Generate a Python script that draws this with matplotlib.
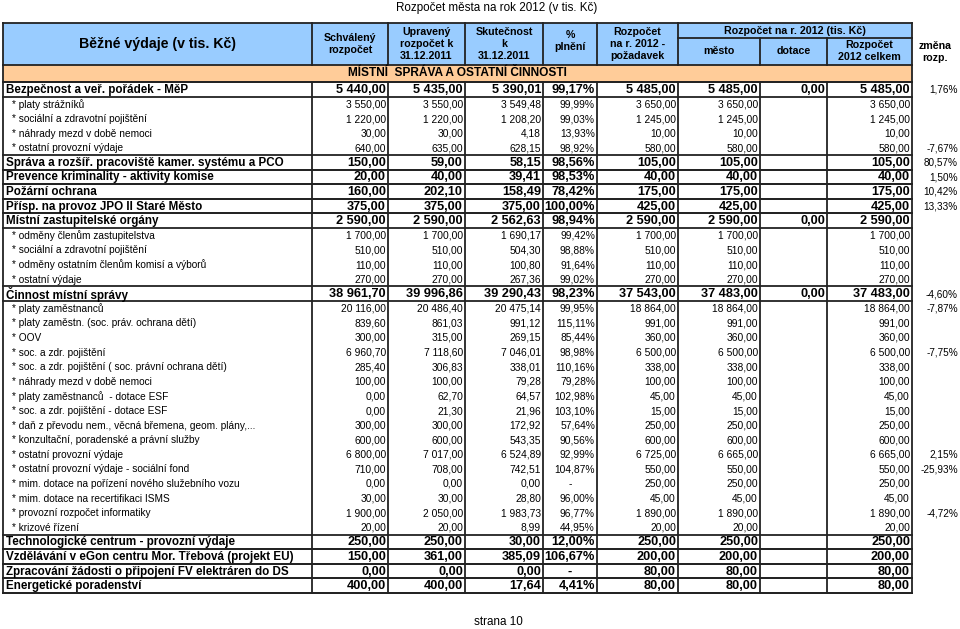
import matplotlib as mpl
mpl.use('Agg')
import matplotlib.pyplot as plt

plt.rcParams['font.family'] = ['Liberation Sans', 'DejaVu Sans']

title = "Rozpočet města na rok 2012 (v tis. Kč)"
section = "MÍSTNÍ  SPRÁVA A OSTATNÍ ČINNOSTI"

labels = [
    "Bezpečnost a veř. pořádek - MěP",
    "* platy strážníků",
    "* sociální a zdravotní pojištění",
    "* náhrady mezd v době nemoci",
    "* ostatní provozní výdaje",
    "Správa a rozšíř. pracoviště kamer. systému a PCO",
    "Prevence kriminality - aktivity komise",
    "Požární ochrana",
    "Přísp. na provoz JPO II Staré Město",
    "Místní zastupitelské orgány",
    "* odměny členům zastupitelstva",
    "* sociální a zdravotní pojištění",
    "* odměny ostatním členům komisí a výborů",
    "* ostatní výdaje",
    "Činnost místní správy",
    "* platy zaměstnanců",
    "* platy zaměstn. (soc. práv. ochrana dětí)",
    "* OOV",
    "* soc. a zdr. pojištění",
    "* soc. a zdr. pojištění ( soc. právní ochrana dětí)",
    "* náhrady mezd v době nemoci",
    "* platy zaměstnanců  - dotace ESF",
    "* soc. a zdr. pojištění - dotace ESF",
    "* daň z převodu nem., věcná břemena, geom. plány,...",
    "* konzultační, poradenské a právní služby",
    "* ostatní provozní výdaje",
    "* ostatní provozní výdaje - sociální fond",
    "* mim. dotace na pořízení nového služebního vozu",
    "* mim. dotace na recertifikaci ISMS",
    "* provozní rozpočet informatiky",
    "* krizové řízení",
    "Technologické centrum - provozní výdaje",
    "Vzdělávání v eGon centru Mor. Třebová (projekt EU)",
    "Zpracování žádosti o připojení FV elektráren do DS",
    "Energetické poradenství",
]

schvaleny = [5440.00, 3550.00, 1220.00, 30.00, 640.00, 150.00, 20.00, 160.00, 375.00,
             2590.00, 1700.00, 510.00, 110.00, 270.00, 38961.70, 20116.00, 839.60, 300.00,
             6960.70, 285.40, 100.00, 0.00, 0.00, 300.00, 600.00, 6800.00, 710.00, 0.00,
             30.00, 1900.00, 20.00, 250.00, 150.00, 0.00, 400.00]
upraveny = [5435.00, 3550.00, 1220.00, 30.00, 635.00, 59.00, 40.00, 202.10, 375.00,
            2590.00, 1700.00, 510.00, 110.00, 270.00, 39996.86, 20486.40, 861.03, 315.00,
            7118.60, 306.83, 100.00, 62.70, 21.30, 300.00, 600.00, 7017.00, 708.00, 0.00,
            30.00, 2050.00, 20.00, 250.00, 361.00, 0.00, 400.00]
skutecnost = [5390.01, 3549.48, 1208.20, 4.18, 628.15, 58.15, 39.41, 158.49, 375.00,
              2562.63, 1690.17, 504.30, 100.80, 267.36, 39290.43, 20475.14, 991.12, 269.15,
              7046.01, 338.01, 79.28, 64.57, 21.96, 172.92, 543.35, 6524.89, 742.51, 0.00,
              28.80, 1983.73, 8.99, 30.00, 385.09, 0.00, 17.64]
plneni = [99.17, 99.99, 99.03, 13.93, 98.92, 98.56, 98.53, 78.42, 100.00,
          98.94, 99.42, 98.88, 91.64, 99.02, 98.23, 99.95, 115.11, 85.44,
          98.98, 110.16, 79.28, 102.98, 103.10, 57.64, 90.56, 92.99, 104.87, None,
          96.00, 96.77, 44.95, 12.00, 106.67, None, 4.41]
pozadavek = [5485.00, 3650.00, 1245.00, 10.00, 580.00, 105.00, 40.00, 175.00, 425.00,
             2590.00, 1700.00, 510.00, 110.00, 270.00, 37543.00, 18864.00, 991.00, 360.00,
             6500.00, 338.00, 100.00, 45.00, 15.00, 250.00, 600.00, 6725.00, 550.00, 250.00,
             45.00, 1890.00, 20.00, 250.00, 200.00, 80.00, 80.00]
mesto = [5485.00, 3650.00, 1245.00, 10.00, 580.00, 105.00, 40.00, 175.00, 425.00,
         2590.00, 1700.00, 510.00, 110.00, 270.00, 37483.00, 18864.00, 991.00, 360.00,
         6500.00, 338.00, 100.00, 45.00, 15.00, 250.00, 600.00, 6665.00, 550.00, 250.00,
         45.00, 1890.00, 20.00, 250.00, 200.00, 80.00, 80.00]
dotace = [0.00, None, None, None, None, None, None, None, None,
          0.00, None, None, None, None, 0.00, None, None, None,
          None, None, None, None, None, None, None, None, None, None,
          None, None, None, None, None, None, None]
celkem = mesto
zmena = [1.76, None, None, None, -7.67, 80.57, 1.50, 10.42, 13.33,
         None, None, None, None, None, -4.60, -7.87, None, None,
         -7.75, None, None, None, None, None, None, 2.15, -25.93, None,
         None, -4.72, None, None, None, None, None]
is_main = [True, False, False, False, False, True, True, True, True,
           True, False, False, False, False, True, False, False, False,
           False, False, False, False, False, False, False, False, False, False,
           False, False, False, True, True, True, True]


def fmt(v):
    if v is None:
        return ""
    return f"{v:,.2f}".replace(",", " ").replace(".", ",")


def fmt_pct(v):
    if v is None:
        return "-"
    return f"{v:.2f}".replace(".", ",") + "%"


# layout in pixel units
xs = [3, 312, 388, 465, 543, 597, 678, 760, 827, 912]
head_top, head_mid, head_bot = 23, 38, 65
band_bot = 82
table_bot = 593
n = len(labels)
rh = (table_bot - band_bot) / n
lc = '#222222'
lw = 1.3

fig = plt.figure(figsize=(9.6, 6.29), dpi=100)
ax = fig.add_axes([0, 0, 1, 1])
ax.set_xlim(0, 960)
ax.set_ylim(629, 0)
ax.axis('off')

ax.text(497, 8, title, ha='center', va='center', fontsize=8.4)

# header
ax.add_patch(plt.Rectangle((xs[0], head_top), xs[-1] - xs[0], head_bot - head_top,
                           facecolor='#99ccff', edgecolor='none'))
ax.add_patch(plt.Rectangle((xs[0], head_bot), xs[-1] - xs[0], band_bot - head_bot,
                           facecolor='#ffcc99', edgecolor='none'))

hdr_kw = dict(ha='center', va='center', fontsize=7.7, fontweight='bold', linespacing=1.25)
ax.text((xs[0] + xs[1]) / 2, 44, "Běžné výdaje (v tis. Kč)", ha='center', va='center',
        fontsize=10.2, fontweight='bold')
ax.text((xs[1] + xs[2]) / 2, 44, "Schválený\nrozpočet", **hdr_kw)
ax.text((xs[2] + xs[3]) / 2, 44, "Upravený\nrozpočet k\n31.12.2011", **hdr_kw)
ax.text((xs[3] + xs[4]) / 2, 44, "Skutečnost\nk\n31.12.2011", **hdr_kw)
ax.text((xs[4] + xs[5]) / 2, 41, "%\nplnění", **hdr_kw)
ax.text((xs[5] + xs[6]) / 2, 44, "Rozpočet\nna r. 2012 -\npožadavek", **hdr_kw)
ax.text((xs[6] + xs[9]) / 2, 30.5, "Rozpočet na r. 2012 (tis. Kč)", **hdr_kw)
ax.text((xs[6] + xs[7]) / 2, 51.5, "město", **hdr_kw)
ax.text((xs[7] + xs[8]) / 2, 51.5, "dotace", **hdr_kw)
ax.text((xs[8] + xs[9]) / 2, 51.5, "Rozpočet\n2012 celkem", **hdr_kw)
ax.text(935, 52, "změna\nrozp.", **hdr_kw)
ax.text((xs[0] + xs[-1]) / 2, 73.5, section, ha='center', va='center',
        fontsize=8.6, fontweight='bold')

# header grid
for y in (head_top, head_bot, band_bot):
    ax.plot([xs[0], xs[-1]], [y, y], color=lc, lw=lw)
ax.plot([xs[6], xs[9]], [head_mid, head_mid], color=lc, lw=lw)
for i, x in enumerate(xs):
    y0 = head_mid if i in (7, 8) else head_top
    ax.plot([x, x], [y0, head_bot], color=lc, lw=lw)
ax.plot([xs[0], xs[0]], [head_bot, band_bot], color=lc, lw=lw)
ax.plot([xs[-1], xs[-1]], [head_bot, band_bot], color=lc, lw=lw)

# body grid
for x in xs:
    ax.plot([x, x], [band_bot, table_bot], color=lc, lw=lw)
for i in range(n):
    if is_main[i]:
        y0 = band_bot + i * rh
        for y in (y0, y0 + rh):
            ax.plot([xs[0], xs[-1]], [y, y], color=lc, lw=lw)
ax.plot([xs[0], xs[-1]], [table_bot, table_bot], color=lc, lw=lw)

# body text
cols = [schvaleny, upraveny, skutecnost, None, pozadavek, mesto, dotace, celkem]
for i in range(n):
    yc = band_bot + (i + 0.5) * rh + 0.5
    main = is_main[i]
    if main:
        ax.text(xs[0] + 3, yc, labels[i], ha='left', va='center',
                fontsize=8.4, fontweight='bold')
    else:
        ax.text(xs[0] + 9, yc, labels[i], ha='left', va='center', fontsize=7.3)
    nkw = dict(va='center', fontsize=9.2 if main else 7.4,
               fontweight='bold' if main else 'normal')
    for c, col in enumerate(cols):
        right = xs[c + 2] - 2
        if col is None:
            if plneni[i] is None:
                ax.text((xs[c + 1] + xs[c + 2]) / 2, yc, "-", ha='center', **nkw)
            else:
                ax.text(right, yc, fmt_pct(plneni[i]), ha='right', **nkw)
        else:
            ax.text(right, yc, fmt(col[i]), ha='right', **nkw)
    if zmena[i] is not None:
        ax.text(958, yc, fmt_pct(zmena[i]), ha='right', va='center', fontsize=7.2)

ax.text(498, 622, "strana 10", ha='center', va='center', fontsize=8.4)

fig.savefig("out.png", dpi=100)
